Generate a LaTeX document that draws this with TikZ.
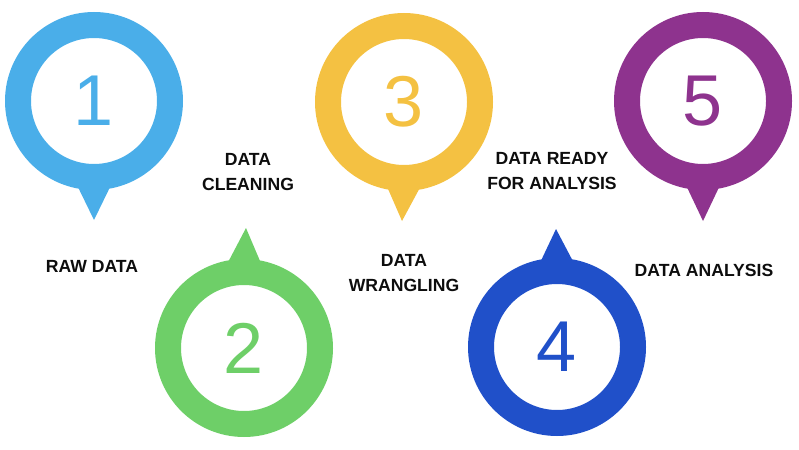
\documentclass[tikz,border=0pt]{standalone}
\usepackage{fontspec}
\setmainfont{Liberation Sans}
\usetikzlibrary{calc}
\definecolor{pinone}{HTML}{4AAEE9}
\definecolor{pintwo}{HTML}{6ECF68}
\definecolor{pinthree}{HTML}{F4C142}
\definecolor{pinfour}{HTML}{2050C9}
\definecolor{pinfive}{HTML}{8E338E}
\begin{document}
\begin{tikzpicture}%
	[x=1pt, y=-1pt,
	ring/.style={even odd rule},
	digit/.style={font=\fontsize{72}{72}\selectfont, inner sep=0pt},
	caption/.style={font=\fontsize{17.6}{24.5}\selectfont\bfseries, text=black!95, align=center, inner sep=0pt}]
	%
	\useasboundingbox (0,0) rectangle (799,449);
	%%
	%% Centres of the pins:
	%%
	\coordinate (c1) at (94,101);
	\coordinate (c2) at (244,348);
	\coordinate (c3) at (404,102);
	\coordinate (c4) at (557,347);
	\coordinate (c5) at (703,101);
	%%
	%% Pins pointing down
	%%
	\fill[pinone] ($(c1)+(-19,80)$) -- ($(c1)+(0,119)$) -- ($(c1)+(19,80)$) -- cycle;
	\fill[pinone, ring] (c1) circle (89) (c1) circle (63);
	\fill[pinthree] ($(c3)+(-19,80)$) -- ($(c3)+(-2,119)$) -- ($(c3)+(19,80)$) -- cycle;
	\fill[pinthree, ring] (c3) circle (89) (c3) circle (63);
	\fill[pinfive] ($(c5)+(-19,80)$) -- ($(c5)+(0,120)$) -- ($(c5)+(19,80)$) -- cycle;
	\fill[pinfive, ring] (c5) circle (89) (c5) circle (63);
	%%
	%% Pins pointing up
	%%
	\fill[pintwo] ($(c2)+(-19,-80)$) -- ($(c2)+(2,-120)$) -- ($(c2)+(19,-80)$) -- cycle;
	\fill[pintwo, ring] (c2) circle (89) (c2) circle (63);
	\fill[pinfour] ($(c4)+(-19,-80)$) -- ($(c4)+(-1,-118)$) -- ($(c4)+(19,-80)$) -- cycle;
	\fill[pinfour, ring] (c4) circle (89) (c4) circle (63);
	%%
	%% Numbers
	%%
	\node[digit, text=pinone] (n1) at (c1) {1};
	\node[digit, text=pintwo] (n2) at (c2) {2};
	\node[digit, text=pinthree] (n3) at (c3) {3};
	\node[digit, text=pinfour] (n4) at (c4) {4};
	\node[digit, text=pinfive] (n5) at (c5) {5};
	%%
	%% Captions
	%%
	\node[caption] (raw) at (92,266) {RAW DATA};
	\node[caption] (cleaning) at (248,172) {DATA\\CLEANING};
	\node[caption] (wrangling) at (404,273) {DATA\\WRANGLING};
	\node[caption] (ready) at (552,171) {DATA READY\\FOR ANALYSIS};
	\node[caption] (analysis) at (704,270) {DATA ANALYSIS};
	%%
\end{tikzpicture}
\end{document}
